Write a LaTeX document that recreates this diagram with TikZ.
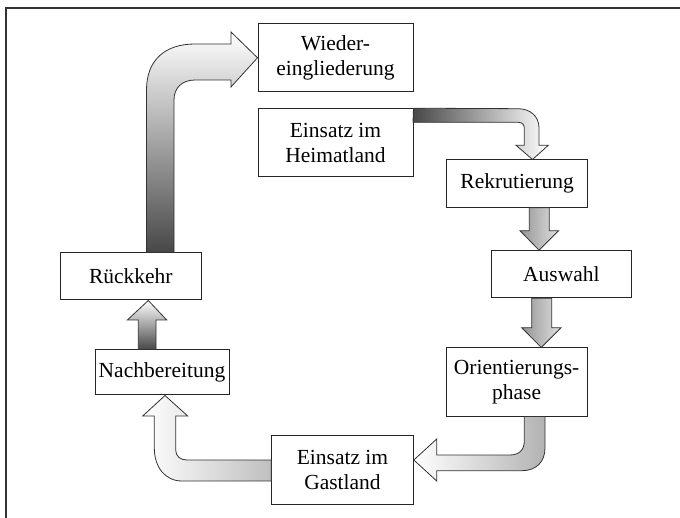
\documentclass[tikz,border=0pt]{standalone}
\usepackage{fontspec}
\setmainfont{Liberation Serif}
\begin{document}
\begin{tikzpicture}[x=1pt,y=-1pt,
  box/.style={draw=black!85, line width=1pt, fill=white, inner sep=0pt, align=center,
    font=\fontsize{21.5}{25}\selectfont},
  fat/.style={draw=black!80, line width=0.8pt, line join=miter},
  frame/.style={draw=black!80, line width=1.3pt}]
\useasboundingbox (0,0) rectangle (680,518);
\draw[frame] (6,518) -- (6,8) -- (680,8);

% boxes
\node[box, minimum width=155pt, minimum height=67.5pt] (wied) at (335.5,57.75) {Wieder-\\eingliederung};
\node[box, minimum width=155pt, minimum height=68pt] (heim) at (335.5,142.7) {Einsatz im\\Heimatland};
\node[box, minimum width=141pt, minimum height=47.3pt] (rekr) at (517.2,183.65) {Rekrutierung};
\node[box, minimum width=139.3pt, minimum height=47pt] (ausw) at (561.35,274.2) {Auswahl};
\node[box, minimum width=141.3pt, minimum height=68pt] (orie) at (516.65,382) {Orientierungs-\\phase};
\node[box, minimum width=141.6pt, minimum height=68.6pt] (gast) at (342.5,470) {Einsatz im\\Gastland};
\node[box, minimum width=134pt, minimum height=45pt] (nach) at (162,372.5) {Nachbereitung};
\node[box, minimum width=141.7pt, minimum height=47pt] (rueck) at (130.85,276.5) {Rückkehr};

% Rueckkehr -> Wiedereingliederung
\path[fat, top color=white, middle color=black!22, bottom color=black!72]
  (146.5,0 |- rueck.north) -- (146.5,90) .. controls (146.5,60) and (165,44) .. (195,44)
  -- (231,44) -- (231,32) -- (wied.west) -- (231,87) -- (231,80) -- (195,80)
  .. controls (182,80) and (174,88) .. (174,100) -- (174,0 |- rueck.north) -- cycle;

% Heimatland -> Rekrutierung
\path[fat, left color=black!72, middle color=black!22, right color=white]
  (heim.north east) -- (518,108.7) .. controls (530,108.7) and (539,116) .. (539,128)
  -- (539,145.3) -- (548.3,145.3) -- (532.5,0 |- rekr.north) -- (516,145.3) -- (524.3,145.3)
  -- (524.3,128) .. controls (524.3,124.5) and (522,122.3) .. (518,122.3) -- (413,122.3) -- cycle;

% Rekrutierung -> Auswahl
\path[fat, left color=black!42, right color=black!12]
  (529.3,0 |- rekr.south) -- (529.3,230.7) -- (520,230.7) -- (539,0 |- ausw.north)
  -- (558.6,230.7) -- (549.3,230.7) -- (549.3,0 |- rekr.south) -- cycle;

% Auswahl -> Orientierungsphase
\path[fat, left color=black!42, right color=black!12]
  (531.7,0 |- ausw.south) -- (531.7,327.7) -- (521.7,327.7) -- (541.3,0 |- orie.north)
  -- (561,327.7) -- (551.7,327.7) -- (551.7,0 |- ausw.south) -- cycle;

% Orientierungsphase -> Gastland
\path[fat, left color=white, right color=black!30]
  (524.3,0 |- orie.south) -- (545,0 |- orie.south) -- (545,448)
  .. controls (545,462) and (536,470.7) .. (522,470.7) -- (436.7,470.7) -- (436.7,481)
  -- (gast.east |- 0,460) -- (436.7,439) -- (436.7,455) -- (510,455)
  .. controls (519,455) and (524.3,450) .. (524.3,441) -- cycle;

% Gastland -> Nachbereitung
\path[fat, left color=white, right color=black!25]
  (gast.west |- 0,460) -- (187,460) .. controls (180,460) and (175.7,456) .. (175.7,450)
  -- (175.7,416) -- (187.7,416) -- (165,0 |- nach.south) -- (142.7,416) -- (154.3,416)
  -- (154.3,448) .. controls (154.3,467) and (165,481) .. (182,481) -- (gast.west |- 0,481) -- cycle;

% Nachbereitung -> Rueckkehr
\path[fat, top color=white, bottom color=black!72]
  (138.3,0 |- nach.north) -- (138.3,320) -- (127.3,320) -- (148.3,0 |- rueck.south)
  -- (166.7,320) -- (156,320) -- (156,0 |- nach.north) -- cycle;
\end{tikzpicture}
\end{document}
